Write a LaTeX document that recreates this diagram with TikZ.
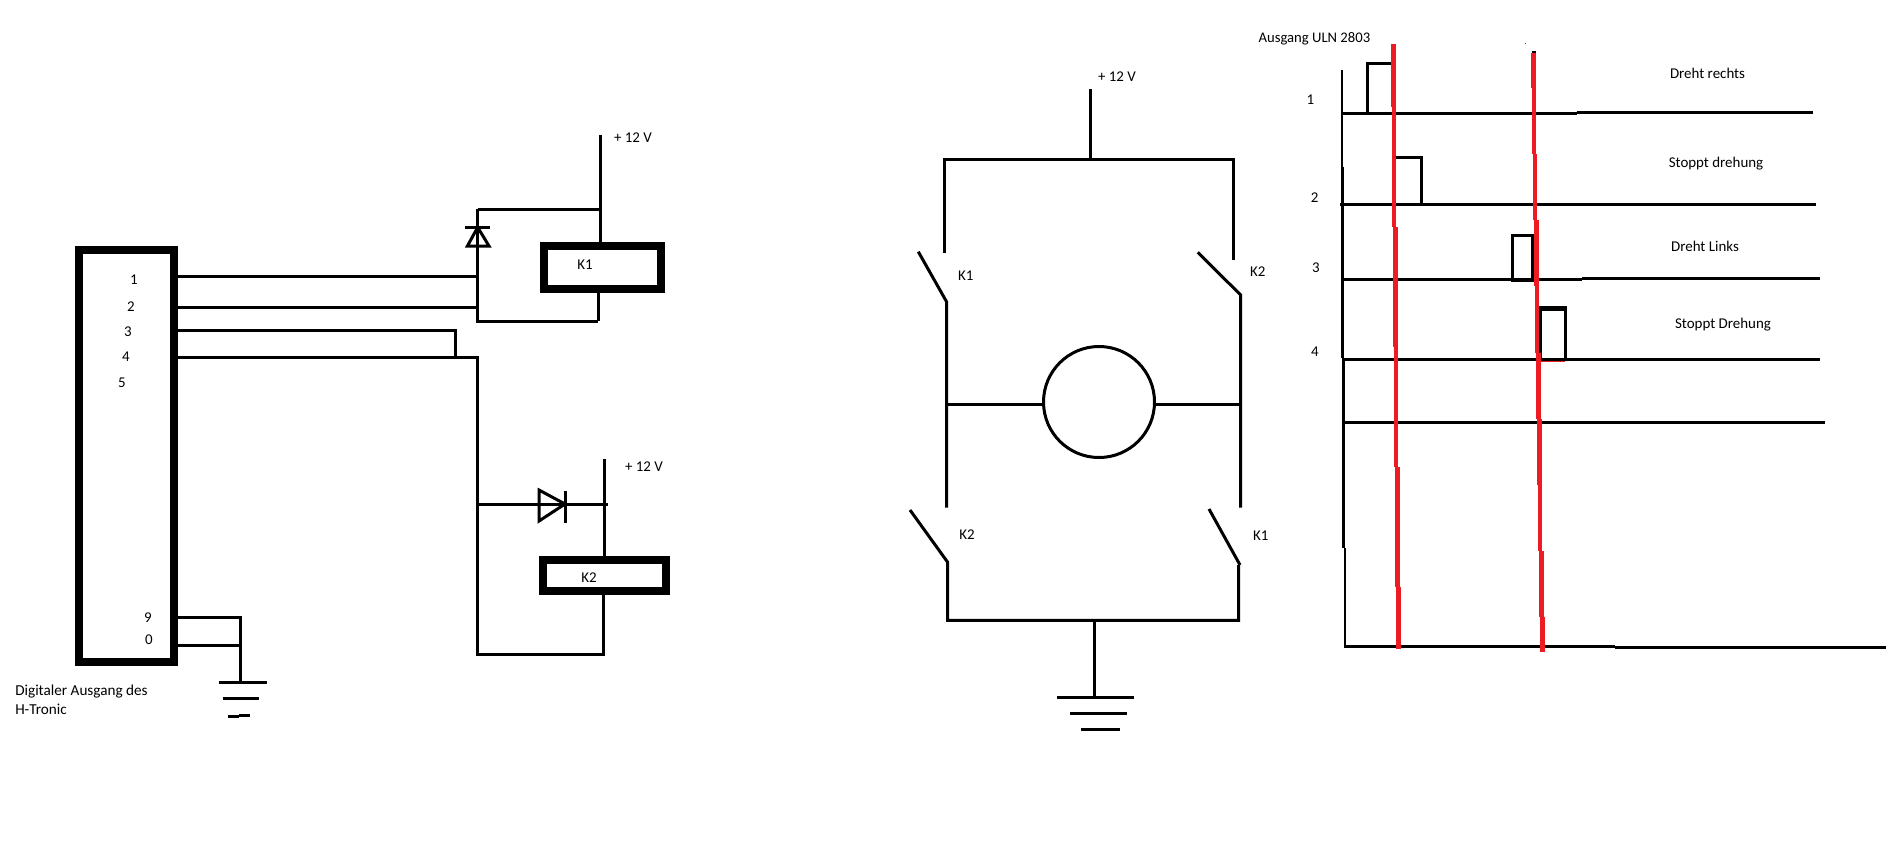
\documentclass[tikz,border=0pt]{standalone}
\usepackage{fontspec}
\setmainfont{Carlito}
\def\px{0.75pt}
\definecolor{paintred}{HTML}{ED1C24}
\tikzset{
  wire/.style={draw=black,line width=3*\px},
  thinwire/.style={draw=black,line width=2.4*\px},
  redwire/.style={draw=paintred,line width=4.4*\px},
  heavybox/.style={draw=black,line width=8*\px,fill=white,rectangle,inner sep=0pt,outer sep=0pt},
  lbl/.style={font=\fontsize{11.2}{13}\selectfont,inner sep=0pt,text=black},
  lblw/.style={lbl,anchor=west},
}
\begin{document}
\begin{tikzpicture}[x=0.75pt,y=-0.75pt]
\useasboundingbox[fill=white] (0,0) rectangle (1894,858);

% ---------- left circuit ----------
\coordinate (jT) at (477.7,209.3);
\coordinate (j1) at (477.7,276.3);
\coordinate (j2) at (477.7,307.3);
\coordinate (jB) at (477.7,321);
\coordinate (j3) at (455.4,330.3);
\coordinate (j3e) at (455.4,359);
\coordinate (j4) at (477.7,357.3);
\coordinate (jK2) at (477.7,654.7);
\coordinate (jD2) at (477.7,504);
\coordinate (v1top) at (600.4,135);
\coordinate (v1j) at (600.4,209.3);
\coordinate (k1b) at (598.2,321);
\coordinate (v2top) at (604.5,459);
\coordinate (v2d) at (608,504);
\coordinate (k2b) at (603.6,654.7);
\coordinate (g9) at (240.6,617);
\coordinate (g0) at (240.6,645);
\coordinate (g1) at (240.6,682);

\draw[wire] (jT) -- (jB) -- (k1b);
\draw[wire] (jT) -- (v1j);
\draw[wire] (v1top) -- (600.4,244);
\draw[wire] (k1b) -- (598.2,290);
\draw[wire] (177,276.3) -- (j1);
\draw[wire] (177,307.3) -- (j2);
\draw[wire] (177,330.3) -- (j3) -- (j3e);
\draw[wire] (177,357.3) -- (j4) -- (jK2) -- (k2b) -- (603.6,593);
\draw[wire] (jD2) -- (v2d);
\draw[wire] (v2top) -- (604.5,558);
\draw[wire] (177,617) -- (g9) -- (g1);
\draw[wire] (177,645) -- (g0);

\node[heavybox,minimum width=94.5*\px,minimum height=412*\px] (hb) at (126.25,456) {};
\node[heavybox,minimum width=117*\px,minimum height=43*\px] (k1) at (602.5,267.5) {};
\node[heavybox,minimum width=123*\px,minimum height=31*\px] (k2) at (604.5,575.5) {};

% diodes
\draw[wire] (467.4,246) -- (477.7,227.3) -- (489,246) -- cycle;
\draw[wire] (465,227.3) -- (490,227.3);
\draw[wire] (539,521) -- (539,490) -- (565,504) -- cycle;
\draw[wire] (565,491) -- (565,523);

% ground left
\draw[wire] (219,682) -- (267,682);
\draw[wire] (223,698) -- (259,698);
\draw[wire] (228,716.6) -- (239,716.6);
\draw[wire] (239,715.6) -- (250,715.6);

\node[lbl] (n1) at (134,280) {1};
\node[lbl] (n2) at (131,307) {2};
\node[lbl] (n3) at (128,332) {3};
\node[lbl] (n4) at (126,357) {4};
\node[lbl] (n5) at (122,383) {5};
\node[lbl] (n9) at (148,618) {9};
\node[lbl] (n0) at (149,640) {0};
\node[lbl] (lk1) at (585,265) {K1};
\node[lbl] (lk2) at (589,578) {K2};
\node[lbl] (v12a) at (633,138) {+ 12 V};
\node[lbl] (v12b) at (644,467) {+ 12 V};
\node[lblw,font=\fontsize{11.4}{13}\selectfont] (dig1) at (15,692) {Digitaler Ausgang des};
\node[lblw,font=\fontsize{11.4}{13}\selectfont] (dig2) at (15,709) {H-Tronic};

% ---------- H-bridge ----------
\coordinate (pwr) at (1090.7,89);
\coordinate (pj) at (1090.7,159);
\coordinate (tl) at (944.3,159);
\coordinate (tr) at (1233.3,159);
\coordinate (tle) at (944.3,252.7);
\coordinate (tre) at (1233.3,260);
\coordinate (sw1a) at (918.3,251.7);
\coordinate (sw1b) at (946.7,302);
\coordinate (sw2a) at (1197.7,252.3);
\coordinate (sw2b) at (1240.7,295);
\coordinate (mlb) at (946.7,507.7);
\coordinate (mrb) at (1240.7,507.7);
\coordinate (sw3a) at (910,510);
\coordinate (sw3b) at (947.7,562.3);
\coordinate (sw4a) at (1209,509);
\coordinate (sw4b) at (1240,565);
\coordinate (bl) at (947.7,620.3);
\coordinate (br) at (1238.7,620.3);
\coordinate (gj) at (1094.3,620.3);
\coordinate (gb) at (1094.3,697.3);
\node[draw=black,line width=3*\px,circle,minimum size=111*\px,inner sep=0pt,outer sep=0pt] (motor) at (1099,402) {};

\draw[wire] (pwr) -- (pj);
\draw[wire] (tle) -- (tl) -- (tr) -- (tre);
\draw[wire] (sw1a) -- (sw1b) -- (mlb);
\draw[wire] (sw2a) -- (sw2b) -- (mrb);
\draw[wire] (946.7,404.3) -- (motor.west |- 946.7,404.3);
\draw[wire] (motor.east |- 946.7,404.3) -- (1240.7,404.3);
\draw[wire] (sw3a) -- (sw3b) -- (bl) -- (br) -- (1238.7,565);
\draw[wire] (sw4a) -- (sw4b);
\draw[wire] (gj) -- (gb);
\draw[wire] (1057,697.3) -- (1134,697.3);
\draw[wire] (1070,713.3) -- (1127,713.3);
\draw[wire] (1081,729.3) -- (1120,729.3);

\node[lbl] (v12c) at (1117,77) {+ 12 V};
\node[lbl] (s1) at (965.7,275.7) {K1};
\node[lbl] (s2) at (1257.7,271.7) {K2};
\node[lbl] (s3) at (967,534.7) {K2};
\node[lbl] (s4) at (1260.7,535.7) {K1};

% ---------- timing diagram ----------
\draw[thinwire] (1341.7,70) -- (1341.7,166.7);
\draw[thinwire] (1342.5,166.7) -- (1342.5,358);
\draw[thinwire] (1343.6,358) -- (1343.6,547.7);
\draw[line width=2*\px] (1344.7,547.7) -- (1344.7,647.5);
\draw[wire] (1344,646.3) -- (1615,646.3);
\draw[wire] (1615,647.3) -- (1886,647.3);

\draw[wire] (1342,113.3) -- (1576.7,113.3);
\draw[wire] (1576.7,112.3) -- (1812.5,112.3);
\draw[wire] (1367,113.3) -- (1367,63.3) -- (1392,63.3);
\draw[wire] (1340,204.3) -- (1816,204.3);
\draw[wire] (1395,157) -- (1421.7,157) -- (1421.7,204.3);
\draw[wire] (1342,279.3) -- (1581.7,279.3);
\draw[wire] (1581.7,278.3) -- (1820.4,278.3);
\draw[wire] (1532.5,280.8) -- (1512,280.8) -- (1512,235.3) -- (1532.5,235.3) -- cycle;
\draw[draw=paintred,line width=1*\px] (1540.8,361.3) -- (1565.4,361.3);
\draw[wire] (1343,359.3) -- (1820.4,359.3);
\draw[wire] (1540.8,359.3) -- (1540.8,308);
\draw[wire] (1565.4,359.3) -- (1565.4,308);
\draw[line width=4.7*\px] (1539.3,308.3) -- (1566.9,308.3);
\draw[wire] (1344,422.3) -- (1825,422.3);

% red markers
\draw[redwire] (1393.3,44) -- (1393.3,106.7);
\draw[redwire] (1394.2,106.7) -- (1394.2,226.7);
\draw[redwire] (1395.4,226.7) -- (1395.4,346.7);
\draw[redwire] (1396.2,346.7) -- (1396.2,466.7);
\draw[redwire] (1397.3,466.7) -- (1397.3,586.7);
\draw[redwire] (1398.5,586.7) -- (1398.5,649.3);

\fill[black] (1532,51.3) rectangle (1535.5,54);
\fill[paintred] (1525.2,43) rectangle (1526,44);
\draw[redwire] (1533.3,53) -- (1533.3,88.3);
\draw[redwire] (1534.2,88.3) -- (1534.2,154);
\draw[redwire] (1535,154) -- (1535,220);
\draw[redwire] (1536.3,220) -- (1536.3,286);
\draw[redwire] (1537,286) -- (1537,352.7);
\draw[redwire] (1538.3,352.7) -- (1538.3,419);
\draw[redwire] (1539.4,419) -- (1539.4,485);
\draw[redwire] (1540.2,485) -- (1540.2,551);
\draw[redwire] (1541.3,551) -- (1541.3,616.7);
\draw[redwire] (1542.4,616.7) -- (1542.4,652.3);

\node[lblw,font=\fontsize{11}{13}\selectfont] (aus) at (1258.3,38.7) {Ausgang ULN 2803};
\node[lbl] (t1) at (1310.4,99.3) {1};
\node[lbl] (t2) at (1314.6,197.7) {2};
\node[lbl] (t3) at (1316,267.7) {3};
\node[lbl] (t4) at (1315,351.3) {4};
\node[lbl] (d1) at (1707.5,73.3) {Dreht rechts};
\node[lbl] (d2) at (1716,163.7) {Stoppt drehung};
\node[lbl] (d3) at (1705,246.7) {Dreht Links};
\node[lbl] (d4) at (1723,325) {Stoppt Drehung};
\end{tikzpicture}
\end{document}
